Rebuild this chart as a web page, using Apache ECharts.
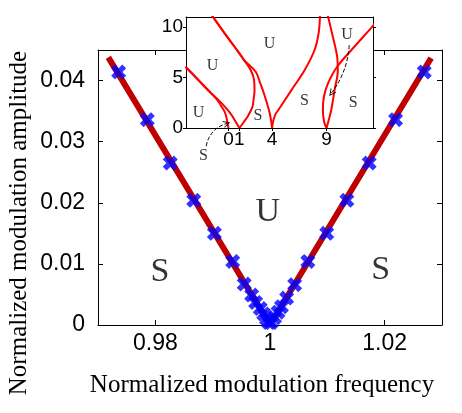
<!DOCTYPE html>
<html>
<head>
<meta charset="utf-8">
<script src="https://cdn.jsdelivr.net/npm/echarts@6/dist/echarts.min.js"></script>
<style>
html,body{margin:0;padding:0;background:#fff;}
#main{width:462px;height:413px;}
</style>
</head>
<body>
<div id="main"></div>
<script>
// main plot: threshold line + simulated points
var lineFreq = [0.9718, 1.0, 1.0281];
var lineAmp = [0.0438, 0, 0.0437];
var markFreq = [0.9736, 0.9786, 0.9826, 0.9867, 0.9903, 0.9935, 0.9955, 0.9968, 0.9975, 0.9983, 0.9989, 0.9994, 0.9998,
                1.0002, 1.0008, 1.0014, 1.0020, 1.0029, 1.0043, 1.0066, 1.0099, 1.0134, 1.0173, 1.0219, 1.0269];
var markAmp = [0.0414, 0.0336, 0.0265, 0.0204, 0.0150, 0.0104, 0.0067, 0.0049, 0.0037, 0.0027, 0.0018, 0.0010, 0.0004,
               0.0004, 0.0012, 0.0021, 0.0030, 0.0044, 0.0066, 0.0104, 0.0150, 0.0204, 0.0265, 0.0336, 0.0414];
var xTicks = [0.98, 1, 1.02];
var yTicks = [0, 0.01, 0.02, 0.03, 0.04];

var regionText = ['S', 'U', 'S'];
var regionX = [0.9808, 0.9996, 1.0193];
var regionY = [0.0087, 0.0185, 0.0090];

// inset: tongue boundaries
var insetXTicks = [0, 1, 4, 9];
var insetYTicks = [0, 5, 10];
var a1X = [-3.95, -2.6, -1.68, -1.0, -0.7, -0.34, -0.16, -0.06, 0];
var a1Y = [6.1, 4.6, 3.55, 2.75, 2.23, 1.57, 0.9, 0.3, 0];
var a2X = [-3.95, -2.6, -1.65, -1.0, -0.4, 0.21, 0.67, 1];
var a2Y = [6.05, 4.55, 3.5, 2.85, 2.2, 1.4, 0.6, 0];
var b1X = [-1.55, -0.1, 1.0, 1.43, 2.04, 2.34, 2.39, 2.30, 2.19, 1.79, 1.34, 1];
var b1Y = [11.2, 9.0, 7.4, 6.73, 5.73, 4.8, 3.73, 2.8, 2.07, 1.2, 0.5, 0];
var b2X = [-1.55, -0.1, 1.0, 1.43, 2.5, 2.89, 3.26, 3.72, 3.9, 4];
var b2Y = [11.2, 9.0, 7.4, 6.73, 5.57, 4.5, 3.4, 1.73, 0.8, 0];
var cX = [4, 4.11, 4.33, 4.54, 5.76, 6.98, 7.9, 8.27, 8.4];
var cY = [0, 0.73, 1.4, 1.73, 3.73, 5.73, 7.73, 9.4, 11.2];
var d1X = [9.1, 9.57, 9.97, 10.03, 9.73, 9.42, 9.15, 9];
var d1Y = [11.2, 9.07, 7.07, 5.73, 3.73, 1.73, 0.6, 0];
var d2X = [9, 8.78, 8.66, 8.75, 9.12, 9.97, 11.59, 13.24, 13.5];
var d2Y = [0, 0.6, 1.73, 3.07, 4.4, 6.07, 8.1, 10.1, 10.45];

var insetText = ['U', 'U', 'U', 'S', 'S', 'S', 'U', 'S'];
var insetTextX = [-1.47, 3.76, -2.74, 2.71, 6.97, 11.45, 10.88, -2.3];
var insetTextY = [6.13, 8.3, 1.5, 1.25, 2.7, 2.47, 9.2, -2.75];

var arrowFrom = [[-2.05, -1.8], [11.08, 8.2]];
var arrowTo = [[-0.15, 0.45], [9.44, 3.45]];
var arrowCurve = [0.3, 0.15];

function pairs(xs, ys) {
    return xs.map(function (v, i) { return [v, ys[i]]; });
}

var sans = 'Liberation Sans';
var serif = 'Liberation Serif';
var xMark = 'path://M0,3.6 L3.6,0 L7,3.4 L10.4,0 L14,3.6 L10.6,7 L14,10.4 L10.4,14 L7,10.6 L3.6,14 L0,10.4 L3.4,7 Z';
var chevron = 'path://M0,10 L5,0 L10,10 L8.6,10 L5,2.8 L1.4,10 Z';

function axisBase(extra) {
    var a = {
        type: 'value',
        axisLine: { show: true, onZero: false, lineStyle: { color: '#000', width: 1 } },
        splitLine: { show: false }
    };
    for (var k in extra) a[k] = extra[k];
    return a;
}

var redCurves = [[a1X, a1Y], [a2X, a2Y], [b1X, b1Y], [b2X, b2Y], [cX, cY], [d1X, d1Y], [d2X, d2Y]];

var series = [
    {
        type: 'line', xAxisIndex: 0, yAxisIndex: 0,
        data: pairs(lineFreq, lineAmp),
        symbol: 'none',
        lineStyle: { color: '#c00000', width: 6 },
        z: 2
    },
    {
        type: 'scatter', xAxisIndex: 0, yAxisIndex: 0,
        data: pairs(markFreq, markAmp),
        symbol: xMark, symbolSize: 15,
        itemStyle: { color: '#0000ff' },
        z: 3
    },
    {
        type: 'scatter', xAxisIndex: 0, yAxisIndex: 0,
        data: regionText.map(function (t, i) { return { name: t, value: [regionX[i], regionY[i]] }; }),
        symbolSize: 1, itemStyle: { color: 'rgba(0,0,0,0)' },
        label: { show: true, position: 'inside', formatter: '{b}', fontFamily: serif, fontSize: 34, color: '#000' },
        silent: true, z: 3
    }
];

redCurves.forEach(function (c) {
    series.push({
        type: 'line', xAxisIndex: 2, yAxisIndex: 2,
        data: pairs(c[0], c[1]),
        symbol: 'none', smooth: 0.35,
        lineStyle: { color: '#ff0000', width: 2 },
        z: 5
    });
});

series.push({
    type: 'scatter', xAxisIndex: 2, yAxisIndex: 2,
    data: insetText.map(function (t, i) { return { name: t, value: [insetTextX[i], insetTextY[i]] }; }),
    symbolSize: 1, itemStyle: { color: 'rgba(0,0,0,0)' },
    label: { show: true, position: 'inside', formatter: '{b}', fontFamily: serif, fontSize: 16, color: '#000' },
    clip: false, silent: true, z: 6
});

arrowFrom.forEach(function (p, i) {
    series.push({
        type: 'lines', coordinateSystem: 'cartesian2d', xAxisIndex: 2, yAxisIndex: 2,
        data: [{ coords: [p, arrowTo[i]] }],
        symbol: ['none', chevron], symbolSize: 7,
        lineStyle: { color: '#000', width: 1, type: 'dashed', curveness: arrowCurve[i], opacity: 1 },
        clip: false, silent: true, z: 6
    });
});

var chart = echarts.init(document.getElementById('main'));
chart.setOption({
    animation: false,
    backgroundColor: '#fff',
    grid: [
        { left: 98, top: 50, width: 344, height: 275, show: false },
        { left: 186, top: 17, width: 187, height: 111, show: true, backgroundColor: '#fff', borderWidth: 0, z: 3 }
    ],
    xAxis: [
        axisBase({ gridIndex: 0, min: 0.97, max: 1.03, position: 'bottom',
            axisTick: { inside: true, length: 5, customValues: xTicks, lineStyle: { color: '#000' } },
            axisLabel: { customValues: xTicks, color: '#000', fontFamily: sans, fontSize: 23, margin: 7 } }),
        axisBase({ gridIndex: 0, min: 0.97, max: 1.03, position: 'top',
            axisTick: { inside: true, length: 5, customValues: xTicks, lineStyle: { color: '#000' } },
            axisLabel: { show: false } }),
        axisBase({ gridIndex: 1, min: -3.9, max: 13.26, position: 'bottom', z: 4,
            axisTick: { length: 3, customValues: insetXTicks, lineStyle: { color: '#000' } },
            axisLabel: { customValues: insetXTicks, color: '#000', fontFamily: sans, fontSize: 19, margin: 2 } }),
        axisBase({ gridIndex: 1, min: -3.9, max: 13.26, position: 'top', z: 4,
            axisTick: { show: false }, axisLabel: { show: false } })
    ],
    yAxis: [
        axisBase({ gridIndex: 0, min: 0, max: 0.045, position: 'left',
            axisTick: { inside: true, length: 5, customValues: yTicks, lineStyle: { color: '#000' } },
            axisLabel: { customValues: yTicks, color: '#000', fontFamily: sans, fontSize: 23, margin: 13 } }),
        axisBase({ gridIndex: 0, min: 0, max: 0.045, position: 'right',
            axisTick: { inside: true, length: 5, customValues: yTicks, lineStyle: { color: '#000' } },
            axisLabel: { show: false } }),
        axisBase({ gridIndex: 1, min: 0, max: 11, position: 'left', z: 4,
            axisTick: { length: 3, customValues: insetYTicks, lineStyle: { color: '#000' } },
            axisLabel: { customValues: insetYTicks, color: '#000', fontFamily: sans, fontSize: 19, margin: 3 } }),
        axisBase({ gridIndex: 1, min: 0, max: 11, position: 'right', z: 4,
            axisTick: { length: 3, customValues: insetYTicks, lineStyle: { color: '#000' } },
            axisLabel: { show: false } })
    ],
    graphic: [
        { type: 'text', x: 262, y: 385, z: 10,
          style: { text: 'Normalized modulation frequency', font: '25px "Liberation Serif"', fill: '#000', textAlign: 'center', textVerticalAlign: 'middle' } },
        { type: 'text', x: 19, y: 223, rotation: Math.PI / 2, z: 10,
          style: { text: 'Normalized modulation amplitude', font: '25px "Liberation Serif"', fill: '#000', textAlign: 'center', textVerticalAlign: 'middle' } }
    ],
    series: series
});
</script>
</body>
</html>
